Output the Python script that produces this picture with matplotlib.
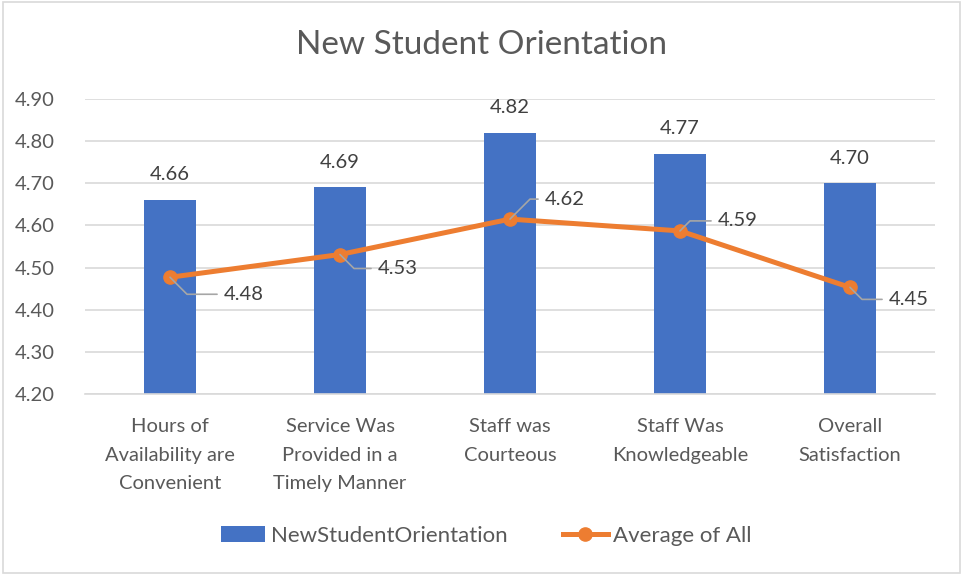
import matplotlib
matplotlib.use("Agg")
import matplotlib.pyplot as plt
from matplotlib.lines import Line2D
from matplotlib.patches import Patch, Rectangle

categories = ["Hours of\nAvailability are\nConvenient",
              "Service Was\nProvided in a\nTimely Manner",
              "Staff was\nCourteous",
              "Staff Was\nKnowledgeable",
              "Overall\nSatisfaction"]
nso_values = [4.66, 4.69, 4.82, 4.77, 4.70]
avg_values = [4.477, 4.531, 4.615, 4.587, 4.453]
yticks = [4.20, 4.30, 4.40, 4.50, 4.60, 4.70, 4.80, 4.90]

BLUE = "#4472C4"
ORANGE = "#ED7D31"
TXT = "#595959"
GRID = "#D9D9D9"

plt.rcParams['font.family'] = ['Lato', 'DejaVu Sans']

fig = plt.figure(figsize=(9.63, 5.75), dpi=100)
fig.patch.set_facecolor("white")
fig.add_artist(Rectangle((0.003, 0.003), 0.994, 0.994, transform=fig.transFigure,
                         fill=False, edgecolor="#D9D9D9", linewidth=1.2))
ax = fig.add_axes([85/963, 1-394/575, (935-85)/963, (394-99)/575])

x = list(range(len(categories)))
ax.bar(x, [v - 4.2 for v in nso_values], bottom=4.2, width=0.31, color=BLUE, zorder=2)
ax.plot(x, avg_values, color=ORANGE, linewidth=3.6, marker="o", markersize=9.5, zorder=3)

ax.set_xlim(-0.5, len(categories) - 0.5)
ax.set_ylim(4.2, 4.9)
ax.set_yticks(yticks)
ax.set_yticklabels([f"{t:.2f}" for t in yticks])
ax.grid(axis="y", color=GRID, linewidth=1.2, zorder=0)
ax.set_axisbelow(True)
for s in ax.spines.values():
    s.set_visible(False)
ax.spines["bottom"].set_visible(True)
ax.spines["bottom"].set_color(GRID)
ax.spines["bottom"].set_linewidth(1.2)
ax.tick_params(axis="both", length=0, labelsize=14.5, labelcolor=TXT)
ax.tick_params(axis="y", pad=22)
ax.set_xticks(x)
ax.set_xticklabels(categories, linespacing=1.85)
ax.tick_params(axis="x", pad=17)

# bar labels
for xi, v in zip(x, nso_values):
    ax.annotate(f"{v:.2f}", (xi, v), xytext=(0, 12), textcoords="offset points",
                ha="center", va="bottom", fontsize=14.5, color="#404040")

# line labels with leader lines (offsets in pixels)
offsets = [(54, -17), (38, -14), (35, 20), (38, 10), (39, -12)]
for xi, v, (dx, dy) in zip(x, avg_values, offsets):
    ang = 45 if dy > 0 else -45
    ax.annotate(f"{round(v, 2):.2f}", (xi, v), xytext=(dx, dy), textcoords="offset pixels",
                ha="left", va="center", fontsize=14.5, color="#404040",
                arrowprops=dict(arrowstyle="-", color="#A6A6A6", lw=1.2,
                                shrinkA=3, shrinkB=0,
                                connectionstyle=f"angle,angleA=0,angleB={ang},rad=0"))

fig.text(0.5, 1 - 45/575, "New Student Orientation", ha="center", va="center",
         fontsize=24, color=TXT)

handles = [Patch(facecolor=BLUE, edgecolor="none"),
           Line2D([0], [0], color=ORANGE, linewidth=3.6, marker="o", markersize=9.5)]
fig.legend(handles, ["NewStudentOrientation", "Average of All"], loc="center",
           bbox_to_anchor=(0.505, 1 - 536/575), ncol=2, frameon=False, fontsize=16,
           labelcolor=TXT, handlelength=2.0, handletextpad=0.25, columnspacing=2.5)

fig.savefig("out.png", dpi=100, facecolor="white")
